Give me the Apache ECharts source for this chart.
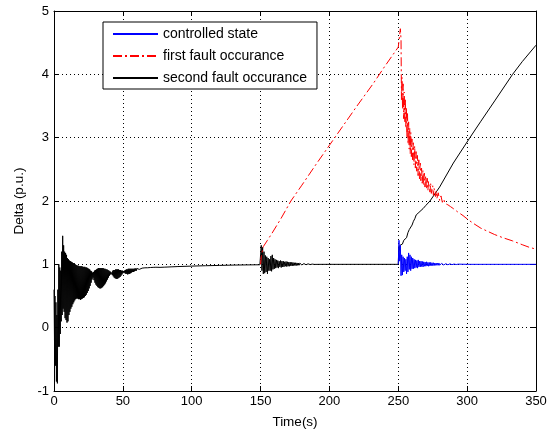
<!DOCTYPE html>
<html>
<head>
<meta charset="utf-8">
<script src="https://cdn.jsdelivr.net/npm/echarts@6/dist/echarts.min.js"></script>
<style>html,body{margin:0;padding:0;background:#fff;}#c{width:558px;height:435px;}</style>
</head>
<body>
<div id="c"></div>
<script>
// ---------- data ----------
const seriesNames = ['controlled state', 'first fault occurance', 'second fault occurance'];
const xTicks = { min: 0, max: 350, step: 50 };
const yTicks = { min: -1, max: 5, step: 1 };

// black: initial transient, sampled every 0.35 s from t = 0
const blackOscStart = 0;
const blackOscStep = 0.35;
const blackOscV = [
  0.6, -0.2, 0.5, -0.6, 0.4, -0.85, 0.2, -0.88, 0.6, -0.3,
  1.0, -0.3, 0.95, -0.1, 0.9, 0.1, 1.2, 0.2, 1.45, 0.3,
  1.3, 0.25, 1.2, 0.15, 1.18, 0.12, 1.15, 0.08, 1.1, 0.1,
  1.08, 0.2, 1.06, 0.25, 1.05, 0.3, 1.04, 0.33, 1.03, 0.37,
  1.02, 0.4, 1.02, 0.43, 1.0, 0.45, 0.99, 0.46, 0.98, 0.46,
  0.98, 0.45, 0.97, 0.45, 0.97, 0.44, 0.97, 0.45, 0.97, 0.46,
  0.96, 0.47, 0.96, 0.48, 0.96, 0.5, 0.95, 0.52, 0.95, 0.55,
  0.94, 0.58, 0.93, 0.62, 0.92, 0.66, 0.9, 0.71, 0.89, 0.76,
  0.87, 0.79, 0.88, 0.75, 0.9, 0.71, 0.91, 0.68, 0.92, 0.66,
  0.93, 0.64, 0.94, 0.63, 0.94, 0.62, 0.94, 0.62, 0.94, 0.63,
  0.94, 0.64, 0.94, 0.66, 0.93, 0.68, 0.93, 0.7, 0.92, 0.73,
  0.92, 0.76, 0.91, 0.79, 0.9, 0.82, 0.89, 0.84, 0.88, 0.85,
  0.89, 0.83, 0.9, 0.81, 0.91, 0.79, 0.91, 0.78, 0.92, 0.77,
  0.92, 0.77, 0.92, 0.78, 0.92, 0.79, 0.91, 0.8, 0.91, 0.82,
  0.9, 0.84, 0.9, 0.86, 0.89, 0.87, 0.9, 0.86, 0.91, 0.85,
  0.92, 0.85, 0.92, 0.84, 0.93, 0.85, 0.93, 0.85, 0.93, 0.86,
  0.93, 0.87, 0.93, 0.88, 0.93, 0.88, 0.93, 0.89, 0.935, 0.9,
  0.935, 0.9, 0.935, 0.91, 0.935, 0.91, 0.935, 0.92, 0.935, 0.92,
  0.93
];
// black: slow settling towards 1
const blackSettleT = [64, 65, 66, 67, 68, 69, 70, 71, 72, 73, 74, 75, 77, 80, 85, 90, 100, 110, 120, 130, 140, 149.5];
const blackSettleV = [0.94, 0.925, 0.945, 0.932, 0.946, 0.936, 0.95, 0.94, 0.952, 0.943, 0.954, 0.946, 0.952, 0.955, 0.96, 0.965, 0.972, 0.978, 0.983, 0.988, 0.991, 0.993];
// black: first fault at t = 150, sampled every 0.5 s
const fault1Start = 150;
const fault1Step = 0.5;
const blackFault1V = [
  0.995, 1.3, 0.9, 1.27, 0.85, 1.2, 0.86, 1.14, 0.88, 1.12,
  0.85, 1.1, 0.9, 1.08, 0.9, 1.13, 0.89, 1.15, 0.92, 1.1,
  0.93, 1.08, 0.94, 1.07, 0.95, 1.06, 0.94, 1.05, 0.96, 1.06,
  0.95, 1.05, 0.96, 1.05, 0.96, 1.04, 0.97, 1.045, 0.965, 1.04,
  0.97, 1.035, 0.97, 1.035, 0.975, 1.03, 0.975, 1.03, 0.98, 1.025,
  0.98, 1.025, 0.982, 1.022, 0.984, 1.02, 0.986, 1.018, 0.988, 1.016,
  0.99, 1.014, 0.99, 1.012, 0.992, 1.01, 0.993, 1.009, 0.994, 1.008,
  0.995, 1.006, 0.996, 1.005, 0.997, 1.004, 0.998, 1.003, 0.999, 1.002
];
// black: flat, then second fault (unstable ramp)
const blackFault2T = [195, 250, 250.4, 250.8, 251.2, 252, 253, 254, 255, 256, 257, 258, 259, 260, 261, 262, 263, 265, 268, 270, 273, 280, 290, 302, 310, 320, 333, 340, 350];
const blackFault2V = [1.0, 1.0, 1.28, 1.22, 1.3, 1.33, 1.32, 1.38, 1.4, 1.42, 1.5, 1.55, 1.57, 1.62, 1.68, 1.72, 1.78, 1.82, 1.88, 1.93, 2.0, 2.22, 2.6, 3.0, 3.26, 3.58, 4.0, 4.2, 4.46];

// blue: controlled response after t = 250, sampled every 0.5 s
const fault2Start = 250;
const fault2Step = 0.5;
const blueFault2V = [
  1.0, 1.38, 1.05, 1.3, 0.82, 1.15, 0.83, 1.12, 0.88, 1.1,
  0.9, 1.08, 0.85, 1.12, 0.88, 1.18, 0.92, 1.15, 0.9, 1.12,
  0.93, 1.1, 0.93, 1.08, 0.94, 1.07, 0.95, 1.06, 0.94, 1.07,
  0.96, 1.05, 0.96, 1.05, 0.965, 1.045, 0.96, 1.04, 0.97, 1.035,
  0.97, 1.04, 0.975, 1.03, 0.97, 1.03, 0.975, 1.03, 0.98, 1.025,
  0.98, 1.025, 0.98, 1.02, 0.985, 1.02, 0.985, 1.018, 0.985, 1.02,
  0.987, 1.015, 0.988, 1.014, 0.99, 1.012, 0.99, 1.012, 0.992, 1.01,
  0.992, 1.01, 0.993, 1.008, 0.994, 1.008, 0.995, 1.006, 0.995, 1.006,
  0.996, 1.005, 0.996, 1.004, 0.997, 1.004, 0.997, 1.003, 0.998, 1.003
];
const blueTailT = [300, 350];
const blueTailV = [1.0, 1.0];

// red: first fault occurrence
const redT = [150, 150.5, 151, 152, 155, 158, 165, 172, 180, 190, 200, 210, 220, 232, 240, 250, 251, 251.5, 252,
  252.3, 252.7, 253.1, 253.5, 253.9, 254.3, 254.7, 255.1, 255.5, 255.9, 256.3, 256.7, 257.1, 257.5, 257.9, 258.3,
  258.7, 259.1, 259.5, 259.9, 260.4, 260.9, 261.4, 261.9, 262.4, 262.9, 263.4, 263.9, 264.4, 264.9, 265.4, 265.9,
  266.4, 266.9, 267.4, 267.9, 268.4, 268.9, 269.4, 269.9, 270.5, 271, 271.5, 272, 273, 273.5, 274, 275, 275.5,
  276, 277, 277.5, 278, 279, 280, 281, 282, 283, 284, 285, 286, 288, 290, 293, 297, 301, 305, 310, 315,
  320, 326, 333, 340, 345, 350];
const redV = [1.0, 1.12, 1.18, 1.28, 1.38, 1.48, 1.73, 2.0, 2.25, 2.57, 2.88, 3.19, 3.5, 3.86, 4.12, 4.43, 4.62, 4.72, 4.55,
  3.6, 3.95, 3.45, 3.85, 3.3, 3.72, 3.25, 3.62, 3.15, 3.48, 3.0, 3.38, 2.9, 3.25, 2.82, 3.15,
  2.75, 3.08, 2.7, 2.98, 2.65, 2.92, 2.57, 2.87, 2.52, 2.78, 2.47, 2.72, 2.4, 2.65, 2.35, 2.6,
  2.32, 2.52, 2.28, 2.48, 2.25, 2.44, 2.22, 2.4, 2.19, 2.36, 2.17, 2.31, 2.14, 2.28, 2.12, 2.24, 2.09,
  2.2, 2.07, 2.16, 2.04, 2.13, 2.01, 2.08, 1.98, 2.03, 1.96, 1.99, 1.94, 1.91, 1.88, 1.83, 1.77, 1.7, 1.64, 1.57, 1.52,
  1.47, 1.42, 1.37, 1.31, 1.27, 1.24];

// ---------- build series data ----------
function sampled(start, step, vals) { return vals.map((v, i) => [+(start + i * step).toFixed(3), v]); }
function paired(ts, vs) { return ts.map((t, i) => [t, vs[i]]); }

const blueData = sampled(fault2Start, fault2Step, blueFault2V).concat(paired(blueTailT, blueTailV));
const redData = paired(redT, redV);
const blackData = sampled(blackOscStart, blackOscStep, blackOscV)
  .concat(paired(blackSettleT, blackSettleV))
  .concat(sampled(fault1Start, fault1Step, blackFault1V))
  .concat(paired(blackFault2T, blackFault2V));

const FONT = '"Liberation Sans", Arial, Helvetica, sans-serif';
const axisLine = { show: true, onZero: false, lineStyle: { color: '#000', width: 1 } };
const axisTick = { show: true, inside: true, length: 5, lineStyle: { color: '#000', width: 1 } };
const gridLine = { show: true, lineStyle: { color: '#000', width: 1, type: [1, 3] } };

const chart = echarts.init(document.getElementById('c'), null, { renderer: 'canvas' });
chart.setOption({
  animation: false,
  backgroundColor: '#fff',
  grid: { left: 54, right: 22, top: 11, bottom: 44, containLabel: false },
  legend: {
    orient: 'vertical', left: 103, top: 22,
    padding: [5, 10, 4, 9],
    itemWidth: 45, itemHeight: 14, itemGap: 8,
    backgroundColor: '#fff', borderColor: '#000', borderWidth: 1, borderRadius: 0,
    itemStyle: { color: 'rgba(0,0,0,0)', borderColor: 'rgba(0,0,0,0)', borderWidth: 0 },
    textStyle: { fontFamily: FONT, fontSize: 14, color: '#000', lineHeight: 14 },
    data: seriesNames
  },
  xAxis: [
    { type: 'value', position: 'bottom', min: xTicks.min, max: xTicks.max, interval: xTicks.step,
      name: 'Time(s)', nameLocation: 'middle', nameGap: 24,
      nameTextStyle: { fontFamily: FONT, fontSize: 13.5, color: '#000' },
      axisLine: axisLine, axisTick: axisTick, splitLine: gridLine,
      axisLabel: { fontFamily: FONT, fontSize: 13, color: '#000', margin: 4 } },
    { type: 'value', position: 'top', min: xTicks.min, max: xTicks.max, interval: xTicks.step,
      axisLine: axisLine, axisTick: axisTick, splitLine: { show: false }, axisLabel: { show: false } }
  ],
  yAxis: [
    { type: 'value', position: 'left', min: yTicks.min, max: yTicks.max, interval: yTicks.step,
      name: 'Delta (p.u.)', nameLocation: 'middle', nameGap: 20,
      nameTextStyle: { fontFamily: FONT, fontSize: 13.5, color: '#000' },
      axisLine: axisLine, axisTick: axisTick, splitLine: gridLine,
      axisLabel: { fontFamily: FONT, fontSize: 13, color: '#000', margin: 5 } },
    { type: 'value', position: 'right', min: yTicks.min, max: yTicks.max, interval: yTicks.step,
      axisLine: axisLine, axisTick: axisTick, splitLine: { show: false }, axisLabel: { show: false } }
  ],
  series: [
    { name: seriesNames[0], type: 'line', data: blueData, symbol: 'none', showSymbol: false,
      xAxisIndex: 0, yAxisIndex: 0, color: '#0000ff',
      lineStyle: { color: '#0000ff', width: 1 } },
    { name: seriesNames[1], type: 'line', data: redData, symbol: 'none', showSymbol: false,
      xAxisIndex: 0, yAxisIndex: 0, color: '#ff0000',
      lineStyle: { color: '#ff0000', width: 1, type: [9, 3, 2, 3] } },
    { name: seriesNames[2], type: 'line', data: blackData, symbol: 'none', showSymbol: false,
      xAxisIndex: 0, yAxisIndex: 0, color: '#000000', z: 1,
      lineStyle: { color: '#000000', width: 1 } }
  ]
});
</script>
</body>
</html>
